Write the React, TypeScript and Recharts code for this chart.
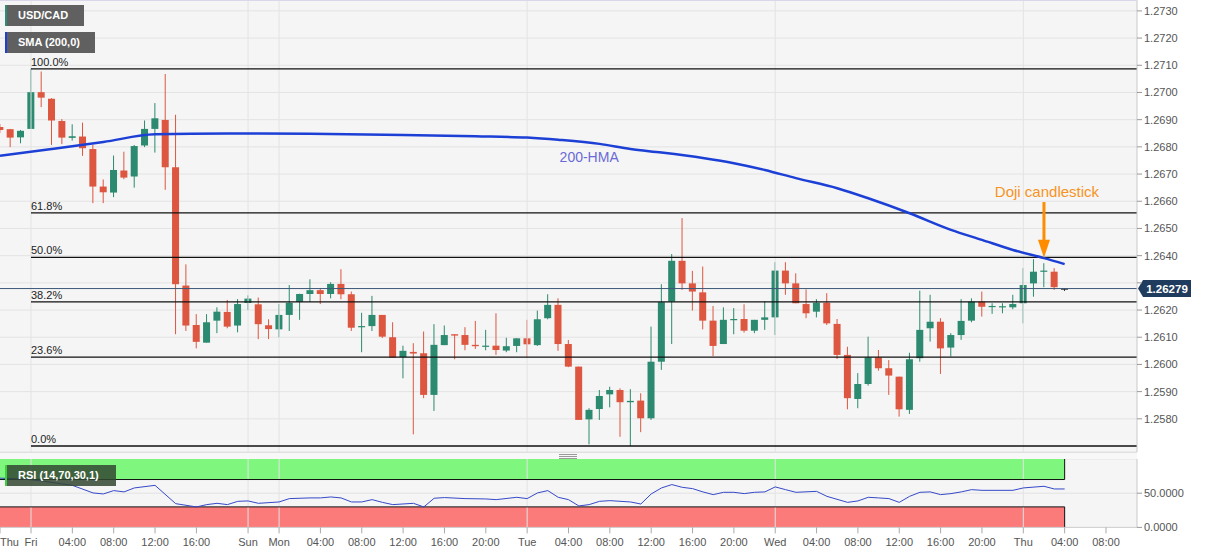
import React from "react";
import {
  ComposedChart,
  Bar,
  Line,
  XAxis,
  YAxis,
  CartesianGrid,
  ReferenceLine,
  ReferenceArea,
  ReferenceDot,
} from "recharts";

// hourly USD/CAD candles, Thu 21:00 -> Thu 04:00 (weekend gap removed)
const candleOpen = [
  1.26873, 1.26865, 1.26835, 1.26866, 1.27001, 1.26977, 1.26895, 1.26833, 1.26838, 1.26792,
  1.26654, 1.26632, 1.26713, 1.26691, 1.26805, 1.26866, 1.26899, 1.26725, 1.2629, 1.26145,
  1.2608, 1.26161, 1.26193, 1.26143, 1.26226, 1.26221, 1.26144, 1.26129, 1.26182, 1.2623,
  1.26259, 1.26273, 1.26259, 1.26296, 1.26258, 1.26139, 1.26141, 1.26182, 1.261, 1.26027,
  1.26046, 1.26041, 1.25888, 1.26071, 1.26111, 1.26108, 1.26072, 1.26067, 1.26069, 1.26051,
  1.26068, 1.26096, 1.26071, 1.2617, 1.26219, 1.26075, 1.25992, 1.25798, 1.25836, 1.2589,
  1.25906, 1.25861, 1.25867, 1.25802, 1.2601, 1.26231, 1.26381, 1.26298, 1.26265, 1.26161,
  1.26075, 1.26165, 1.26167, 1.26124, 1.26164, 1.26173, 1.26345, 1.26298, 1.26222, 1.26194,
  1.26227, 1.26149, 1.26035, 1.25873, 1.25928, 1.26026, 1.25986, 1.25955, 1.25833, 1.26023,
  1.26133, 1.26157, 1.26062, 1.26108, 1.26161, 1.26231, 1.26212, 1.26212, 1.2621, 1.26225,
  1.26298, 1.26341, 1.26341, 1.26279,
];
const candleHigh = [
  1.26884, 1.26866, 1.26862, 1.27087, 1.27077, 1.26979, 1.26902, 1.26883, 1.26889, 1.26807,
  1.2668, 1.26768, 1.26782, 1.26807, 1.26897, 1.26961, 1.27068, 1.26918, 1.26368, 1.26185,
  1.26185, 1.2621, 1.26237, 1.2624, 1.26254, 1.26246, 1.26166, 1.26222, 1.26292, 1.2626,
  1.26313, 1.2628, 1.26302, 1.2635, 1.26268, 1.2619, 1.26252, 1.26182, 1.26155, 1.26069,
  1.26078, 1.26121, 1.26148, 1.26143, 1.26111, 1.26137, 1.2616, 1.26127, 1.26188, 1.26098,
  1.26096, 1.26164, 1.26198, 1.26258, 1.26243, 1.2609, 1.25992, 1.25839, 1.25906, 1.25918,
  1.25912, 1.25909, 1.25894, 1.26139, 1.26295, 1.26406, 1.26538, 1.26344, 1.2636, 1.26215,
  1.2621, 1.26207, 1.26221, 1.26164, 1.26233, 1.26376, 1.26376, 1.26335, 1.26276, 1.2624,
  1.26262, 1.26167, 1.26065, 1.25968, 1.26102, 1.26053, 1.26016, 1.25955, 1.26043, 1.26271,
  1.26256, 1.2617, 1.26115, 1.2624, 1.26243, 1.26268, 1.26225, 1.26225, 1.26256, 1.26354,
  1.26387, 1.26372, 1.26354, 1.26281,
];
const candleLow = [
  1.26851, 1.26799, 1.26813, 1.26866, 1.26946, 1.26807, 1.2681, 1.26823, 1.26767, 1.26593,
  1.26593, 1.26615, 1.26681, 1.2665, 1.26799, 1.26779, 1.26642, 1.26111, 1.26123, 1.26059,
  1.2608, 1.26115, 1.26133, 1.26118, 1.262, 1.26093, 1.26093, 1.261, 1.26123, 1.26164,
  1.2623, 1.26222, 1.26243, 1.2624, 1.26123, 1.26045, 1.26123, 1.26097, 1.26025, 1.25949,
  1.25743, 1.25876, 1.25829, 1.26071, 1.26019, 1.26052, 1.26057, 1.26052, 1.26035, 1.26045,
  1.26045, 1.26025, 1.26068, 1.26166, 1.2605, 1.2599, 1.25796, 1.25706, 1.25796, 1.25842,
  1.25734, 1.257, 1.25751, 1.25796, 1.2598, 1.26075, 1.26274, 1.26198, 1.26129, 1.26031,
  1.26075, 1.26111, 1.26117, 1.26115, 1.26127, 1.26108, 1.26256, 1.26225, 1.2617, 1.26173,
  1.26145, 1.2602, 1.25835, 1.25839, 1.25922, 1.25977, 1.25888, 1.25808, 1.25818, 1.2601,
  1.26084, 1.25965, 1.26029, 1.2609, 1.26155, 1.26176, 1.26186, 1.26188, 1.26203, 1.26151,
  1.26249, 1.26284, 1.26274, 1.2627,
];
const candleClose = [
  1.26862, 1.26834, 1.26859, 1.27001, 1.26981, 1.26897, 1.26834, 1.26839, 1.26795, 1.26654,
  1.26633, 1.26715, 1.26687, 1.26803, 1.26866, 1.26905, 1.26725, 1.26295, 1.26143, 1.26083,
  1.26155, 1.26194, 1.26139, 1.26222, 1.26242, 1.26148, 1.2613, 1.26182, 1.26227, 1.26259,
  1.26273, 1.26259, 1.26296, 1.26258, 1.26135, 1.26141, 1.26182, 1.26102, 1.26025, 1.2605,
  1.2604, 1.25888, 1.26072, 1.26108, 1.26106, 1.26072, 1.26067, 1.26069, 1.26053, 1.26067,
  1.26096, 1.26074, 1.26166, 1.26219, 1.26075, 1.25992, 1.25796, 1.25833, 1.25884, 1.25906,
  1.25861, 1.25866, 1.25802, 1.2601, 1.26229, 1.26381, 1.26298, 1.26268, 1.26161, 1.26068,
  1.26164, 1.26167, 1.26124, 1.26164, 1.26173, 1.26345, 1.26298, 1.26225, 1.26188, 1.26227,
  1.26151, 1.26035, 1.25876, 1.25928, 1.26026, 1.25986, 1.25959, 1.25835, 1.26019, 1.26127,
  1.26157, 1.26059, 1.26108, 1.2616, 1.26231, 1.26212, 1.26215, 1.26214, 1.26222, 1.26292,
  1.26341, 1.26345, 1.26284, 1.26279,
];

// 200-HMA read at a few candles, the line is drawn through them
const hmaIdx = [0, 5, 10, 15, 22, 30, 39, 46, 51, 54, 58, 61, 64, 68, 71, 74, 77, 81, 84, 88, 92, 95, 98, 101, 103];
const hmaVals = [
  1.26767, 1.26792, 1.26818, 1.26846, 1.26849, 1.26848, 1.26844, 1.26839, 1.26834, 1.26826,
  1.26811, 1.26792, 1.26779, 1.26759, 1.2674, 1.26715, 1.26685, 1.26648, 1.26611, 1.26556,
  1.26495, 1.26458, 1.26421, 1.26391, 1.26369,
];

const rsiIdx = [
  0, 2, 4, 6, 7, 9, 10, 11, 12, 13, 15, 17, 19, 20, 21, 22, 23, 24, 25, 27, 28, 30, 31, 32, 33,
  34, 35, 36, 37, 38, 40, 41, 42, 43, 45, 47, 48, 50, 51, 52, 53, 54, 55, 56, 57, 58, 59, 61, 62,
  63, 64, 65, 66, 67, 68, 69, 70, 71, 72, 73, 74, 75, 76, 77, 79, 80, 82, 83, 84, 85, 86, 87, 88,
  89, 90, 91, 92, 93, 94, 95, 98, 99, 101, 102, 103,
];
const rsiVals = [
  72, 71, 68, 63.6, 61.5, 50.4, 48.9, 53.8, 51.9, 57.7, 61.5, 34.7, 29.9, 33.3, 35.2, 33.3, 38.1,
  38.7, 35.2, 37.2, 42.1, 43.1, 43.1, 44.5, 43.1, 37.2, 37.2, 40.6, 36.6, 33.3, 35.2, 29.9, 42.6,
  43.6, 42.1, 41.6, 40.6, 44, 42.1, 50.4, 53.8, 44, 40.6, 31.4, 33.3, 38.1, 39.1, 37.2, 34.2, 48.9,
  57.7, 62.6, 58.6, 56.7, 51.9, 47.9, 51.3, 51.3, 49.4, 51.3, 51.9, 59.2, 55.2, 51.3, 52.7, 45.4,
  36.6, 38.7, 44, 43.1, 42.1, 36.6, 45.4, 51.3, 51.9, 47.9, 49.4, 51.9, 55.2, 54.2, 54.2, 57.7,
  60.1, 56.2, 56.2,
];

const fibLevels = [1.27087, 1.26557, 1.26394, 1.2623, 1.26027, 1.257];
const fibLabels = ["100.0%", "61.8%", "50.0%", "38.2%", "23.6%", "0.0%"];

const priceTicks = [
  1.257, 1.258, 1.259, 1.26, 1.261, 1.262, 1.263, 1.264, 1.265, 1.266, 1.267, 1.268, 1.269, 1.27,
  1.271, 1.272, 1.273,
];
const timeTickIdx = [0, 3, 7, 11, 15, 19, 24, 27, 31, 35, 39, 43, 47, 51, 55, 59, 63, 67, 71, 75, 79, 83, 87, 91, 95, 99, 103, 107];
const timeTickLabels = [
  "Thu", "Fri", "04:00", "08:00", "12:00", "16:00", "Sun", "Mon", "04:00", "08:00", "12:00",
  "16:00", "20:00", "Tue", "04:00", "08:00", "12:00", "16:00", "20:00", "Wed", "04:00", "08:00",
  "12:00", "16:00", "20:00", "Thu", "04:00", "08:00",
];
const dayStartIdx = [3, 24, 27, 51, 75, 99];

const lastPrice = 1.26279;
const dojiIdx = 101;
const dojiArrowTop = 1.26597;
const dojiArrowTip = 1.26392;
const hmaLabelIdx = 57;
const hmaLabelPrice = 1.26763;

const GREEN = "#2b8a6f";
const RED = "#dd5640";
const FONT = "'Liberation Sans', Arial, sans-serif";
const X_DOMAIN: [number, number] = [0, 110];
const PRICE_DOMAIN: [number, number] = [1.25678, 1.2734];

const rows = candleOpen.map((open, i) => {
  const k = hmaIdx.indexOf(i);
  return {
    i,
    open,
    high: candleHigh[i],
    low: candleLow[i],
    close: candleClose[i],
    hma: k >= 0 ? hmaVals[k] : null,
  };
});

const rsiRows = rsiIdx.map((i, k) => ({ i, rsi: rsiVals[k] }));

const Candle = (props: any) => {
  const { x, y, width, height, payload } = props;
  if (!payload) return null;
  const { open, close, high, low } = payload;
  const top = Math.min(y, y + height);
  const h = Math.abs(height);
  const k = h / (high - low);
  const cx = x + width / 2;
  const bTop = top + (high - Math.max(open, close)) * k;
  const bBot = top + (high - Math.min(open, close)) * k;
  const color = close > open ? GREEN : close < open ? RED : "#333";
  return (
    <g>
      <line x1={cx} x2={cx} y1={top} y2={top + h} stroke={color} strokeWidth={1} />
      <rect x={cx - 3.5} y={bTop} width={7} height={Math.max(1.2, bBot - bTop)} fill={color} />
    </g>
  );
};

const PriceTick = (props: any) => {
  const { x, y, payload } = props;
  if (Math.abs(payload.value - 1.263) < 1e-6) return <g />;
  return (
    <text x={x} y={y} dy={4} fill="#555" fontSize={11} fontFamily={FONT} textAnchor="start">
      {payload.value.toFixed(4)}
    </text>
  );
};

const TimeTick = (props: any) => {
  const { x, y, payload } = props;
  const k = timeTickIdx.indexOf(payload.value);
  return (
    <text
      x={payload.value === 0 ? 0 : x}
      y={y + 11}
      fill="#555"
      fontSize={11}
      fontFamily={FONT}
      textAnchor={payload.value === 0 ? "start" : "middle"}
    >
      {timeTickLabels[k]}
    </text>
  );
};

const tagStyle = (accent: string): React.CSSProperties => ({
  position: "absolute",
  background: "rgba(80,80,80,0.9)",
  color: "#fff",
  fontWeight: "bold",
  fontSize: 11,
  lineHeight: "21px",
  height: 21,
  paddingLeft: 11,
  borderLeft: `2px solid ${accent}`,
  boxSizing: "border-box",
});

export default function App() {
  return (
    <div
      style={{
        position: "absolute",
        left: 0,
        top: 0,
        width: 1207,
        height: 555,
        background: "#fff",
        fontFamily: FONT,
        overflow: "hidden",
      }}
    >
      <div style={{ position: "absolute", left: 0, top: 0 }}>
        <ComposedChart width={1207} height={452} data={rows} margin={{ top: 0, right: 0, bottom: 0, left: 0 }}>
          <CartesianGrid vertical={false} stroke="#e3e3e3" fill="#f5f5f5" />
          <XAxis type="number" dataKey="i" domain={X_DOMAIN} hide allowDataOverflow />
          <YAxis
            orientation="right"
            width={70}
            domain={PRICE_DOMAIN}
            allowDataOverflow
            ticks={priceTicks}
            tick={<PriceTick />}
            tickSize={5}
            axisLine={{ stroke: "#c9c9c9" }}
            tickLine={{ stroke: "#999" }}
          />
          {dayStartIdx.map((d) => (
            <ReferenceLine key={`day-${d}`} x={d} stroke="#e3e3e3" />
          ))}
          {fibLevels.map((lvl, k) => (
            <ReferenceLine
              key={`fib-${k}`}
              segment={[
                { x: 3, y: lvl },
                { x: X_DOMAIN[1], y: lvl },
              ]}
              stroke="#111"
              strokeWidth={1.3}
              label={(p: any) => (
                <text x={p.viewBox.x} y={p.viewBox.y - 3} fontSize={11} fill="#222" fontFamily={FONT}>
                  {fibLabels[k]}
                </text>
              )}
            />
          ))}
          <ReferenceLine
            y={lastPrice}
            stroke="#3b5878"
            strokeWidth={1}
            label={(p: any) => {
              const x = p.viewBox.x + p.viewBox.width;
              const y = p.viewBox.y;
              return (
                <g>
                  <path
                    d={`M${x + 1},${y} L${x + 6},${y - 8.5} H${x + 54} V${y + 8.5} H${x + 6} Z`}
                    fill="#1f3b5d"
                  />
                  <text x={x + 30} y={y + 4} textAnchor="middle" fill="#fff" fontWeight="bold" fontSize={11.5} fontFamily={FONT}>
                    {lastPrice.toFixed(5)}
                  </text>
                </g>
              );
            }}
          />
          <Line
            type="monotone"
            dataKey="hma"
            stroke="#1c3fd6"
            strokeWidth={2.5}
            dot={false}
            connectNulls
            isAnimationActive={false}
          />
          <Bar
            dataKey={(d: any) => [d.low, d.high]}
            barSize={8}
            shape={<Candle />}
            isAnimationActive={false}
          />
          <ReferenceDot
            x={hmaLabelIdx}
            y={hmaLabelPrice}
            r={0}
            shape={(p: any) => (
              <text x={p.cx} y={p.cy + 5} textAnchor="middle" fill="#6a6ad6" fontSize={14} fontFamily={FONT}>
                200-HMA
              </text>
            )}
          />
          <ReferenceLine
            segment={[
              { x: dojiIdx, y: dojiArrowTop },
              { x: dojiIdx, y: dojiArrowTip },
            ]}
            shape={(p: any) => {
              const { x1, y1, x2, y2 } = p;
              const top = Math.min(y1, y2);
              const tip = Math.max(y1, y2);
              return (
                <g>
                  <text x={x1 + 3} y={top - 5} textAnchor="middle" fill="#f7931e" fontSize={15} fontFamily={FONT}>
                    Doji candlestick
                  </text>
                  <line x1={x1} x2={x2} y1={top} y2={tip - 16} stroke="#ff8c00" strokeWidth={3} />
                  <polygon points={`${x2 - 6},${tip - 18} ${x2 + 6},${tip - 18} ${x2},${tip}`} fill="#ff8c00" />
                </g>
              );
            }}
          />
        </ComposedChart>
      </div>

      {/* top border and panel separator */}
      <div style={{ position: "absolute", left: 0, top: 0, width: 1137, height: 1, background: "#d8d8ea" }} />
      <div style={{ position: "absolute", left: 0, top: 452, width: 1137, height: 7, background: "#f8f8f8", borderTop: "1px solid #e0e0e0", boxSizing: "border-box" }} />
      <div style={{ position: "absolute", left: 559, top: 454, width: 18, height: 5, borderTop: "1px solid #999", borderBottom: "1px solid #999", boxSizing: "border-box" }} />
      <div style={{ position: "absolute", left: 559, top: 456, width: 18, height: 1, background: "#999" }} />

      <div style={{ position: "absolute", left: 0, top: 459 }}>
        <ComposedChart width={1207} height={96} data={rsiRows} margin={{ top: 0, right: 0, bottom: 0, left: 0 }}>
          <CartesianGrid vertical={false} stroke="#e3e3e3" fill="#f5f5f5" />
          <XAxis
            type="number"
            dataKey="i"
            domain={X_DOMAIN}
            allowDataOverflow
            ticks={timeTickIdx}
            interval={0}
            tick={<TimeTick />}
            height={27.6}
            axisLine={{ stroke: "#d0d0d0" }}
            tickLine={{ stroke: "#aaa" }}
          />
          <YAxis
            orientation="right"
            width={70}
            domain={[0, 100]}
            ticks={[0, 50]}
            tickFormatter={(v: number) => v.toFixed(4)}
            tick={{ fontSize: 11, fill: "#555", fontFamily: FONT }}
            tickSize={5}
            axisLine={{ stroke: "#c9c9c9" }}
            tickLine={{ stroke: "#999" }}
          />
          {dayStartIdx.map((d) => (
            <ReferenceLine key={`rday-${d}`} x={d} stroke="#e3e3e3" />
          ))}
          <ReferenceArea x1={0} x2={103} y1={70} y2={100} fill="#7ff77f" fillOpacity={1} stroke="none" />
          <ReferenceArea x1={0} x2={103} y1={0} y2={30} fill="#fb7b7b" fillOpacity={1} stroke="none" />
          <ReferenceLine segment={[{ x: 0, y: 70 }, { x: 103, y: 70 }]} stroke="#111" />
          <ReferenceLine segment={[{ x: 0, y: 30 }, { x: 103, y: 30 }]} stroke="#111" />
          <ReferenceLine segment={[{ x: 103, y: 70 }, { x: 103, y: 100 }]} stroke="#111" />
          <ReferenceLine segment={[{ x: 103, y: 0 }, { x: 103, y: 30 }]} stroke="#111" />
          <Line
            type="linear"
            dataKey="rsi"
            stroke="#3548c8"
            strokeWidth={1}
            dot={false}
            isAnimationActive={false}
          />
        </ComposedChart>
      </div>

      <div style={{ ...tagStyle("#2e8b74"), left: 5, top: 5, width: 79 }}>USD/CAD</div>
      <div style={{ ...tagStyle("#1c3fd6"), left: 5, top: 32, width: 90 }}>SMA (200,0)</div>
      <div style={{ ...tagStyle("#3cd03c"), left: 5, top: 465, width: 111, background: "rgba(50,70,50,0.85)" }}>
        RSI (14,70,30,1)
      </div>
    </div>
  );
}
